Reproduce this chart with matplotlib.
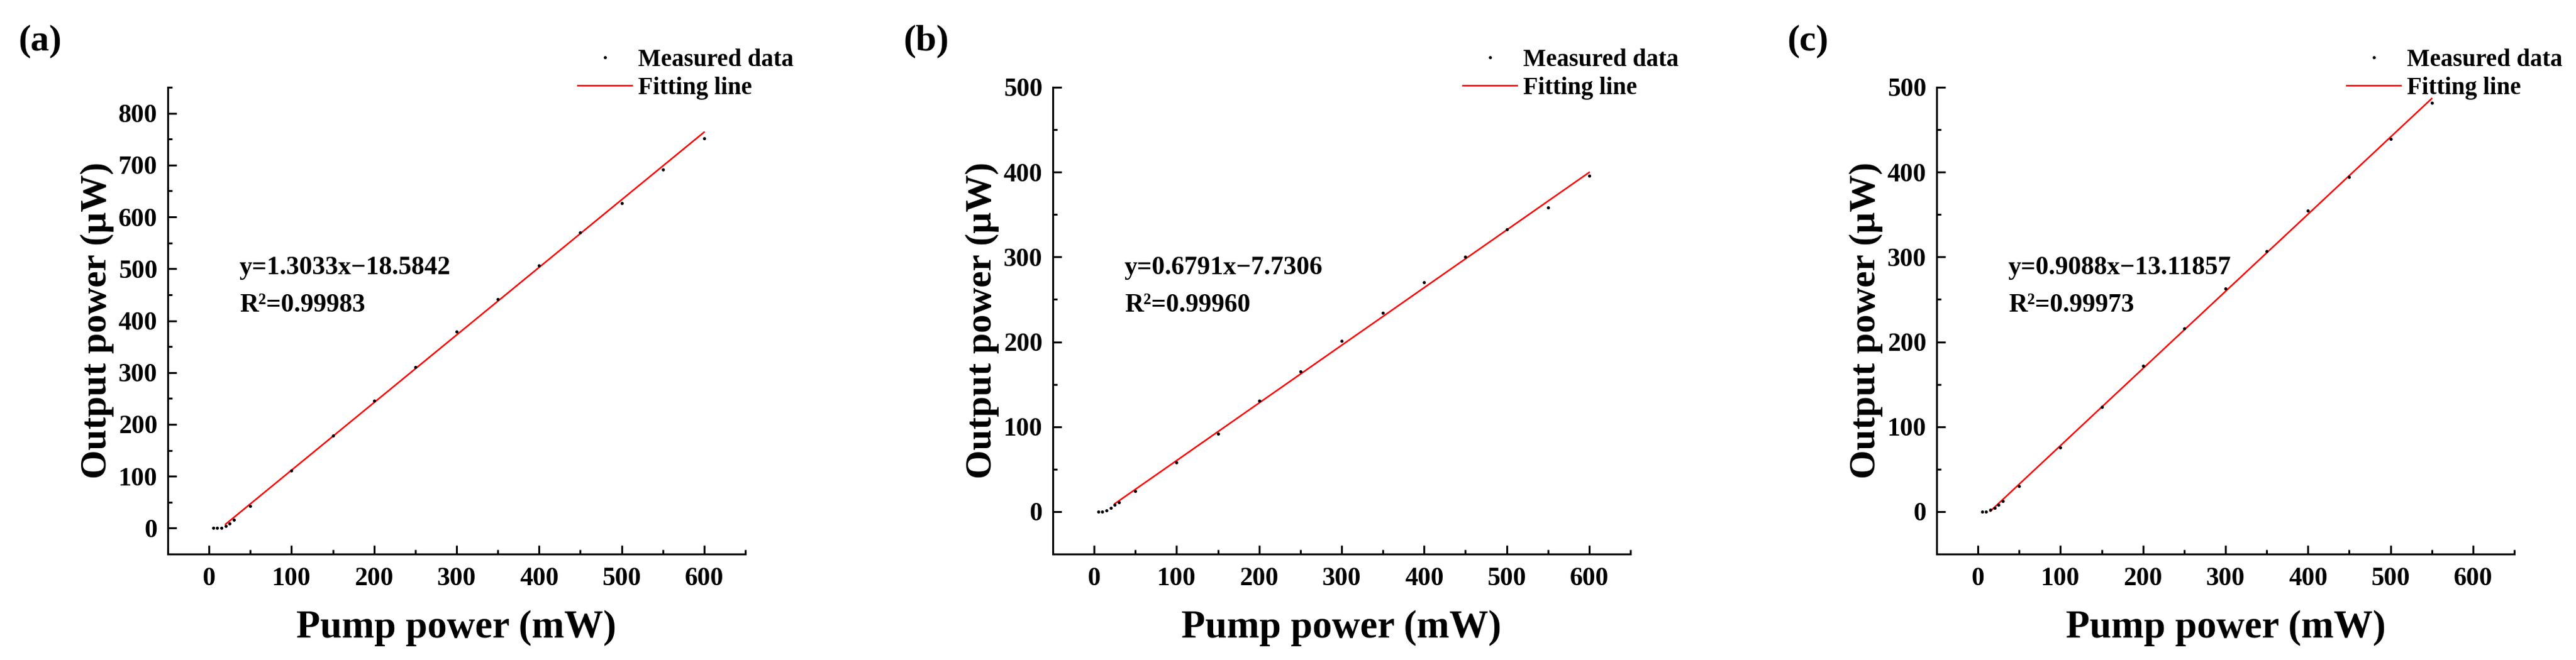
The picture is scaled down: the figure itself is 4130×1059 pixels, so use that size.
import matplotlib
matplotlib.use('Agg')
import matplotlib.pyplot as plt
from matplotlib.ticker import MultipleLocator

plt.rcParams['font.family'] = ['Liberation Serif', 'DejaVu Serif']
plt.rcParams['font.weight'] = 'bold'
plt.rcParams['axes.labelweight'] = 'bold'

# ---- data ----
pump_a = [5, 10, 15, 20, 25, 30, 50, 100, 150, 200, 250, 300, 350, 400, 450, 500, 550, 600]
out_a = [0, 0, 0.8, 4.4, 9.2, 16.4, 42.8, 111.4, 178, 245, 311, 379, 441, 506, 570, 627, 691, 752]
fit_x_a = [20, 600]
fit_y_a = [7.5, 763.4]

pump_b = [5, 10, 15, 20, 25, 30, 50, 100, 150, 200, 250, 300, 350, 400, 450, 500, 550, 600]
out_b = [0, 0, 1.2, 4.4, 8.3, 11, 23.8, 57.6, 91.6, 130.8, 165.5, 201, 234, 270, 300, 332.5, 358, 395.4]
fit_x_b = [25, 600]
fit_y_b = [9.25, 399.7]

pump_c = [5, 10, 15, 20, 25, 30, 50, 100, 150, 200, 250, 300, 350, 400, 450, 500, 550]
out_c = [0, 0, 2, 4.4, 8, 12.2, 30, 75.4, 123.4, 172, 215.6, 262.6, 307.2, 354.8, 394, 439, 481.7]
fit_x_c = [15, 550]
fit_y_c = [0.51, 486.7]

eq_a = ["y=1.3033x\u221218.5842", "R\u00b2=0.99983"]
eq_b = ["y=0.6791x\u22127.7306", "R\u00b2=0.99960"]
eq_c = ["y=0.9088x\u221213.11857", "R\u00b2=0.99973"]

panel_labels = ["(a)", "(b)", "(c)"]
ylims = [(-50, 850), (-50, 500), (-50, 500)]
ymaj = [100, 100, 100]

xlabel = "Pump power (mW)"
ylabel = "Output power (\u00b5W)"
legend_labels = ["Measured data", "Fitting line"]

W, H = 4130, 1059
fig = plt.figure(figsize=(W / 100, H / 100), dpi=100)

lefts = [269, 1688, 3105]
ax_w = 926
ax_top = 140
ax_bot = 889

datasets = [
    (pump_a, out_a, fit_x_a, fit_y_a, eq_a),
    (pump_b, out_b, fit_x_b, fit_y_b, eq_b),
    (pump_c, out_c, fit_x_c, fit_y_c, eq_c),
]

for i, (px, py, fx, fy, eq) in enumerate(datasets):
    ax = fig.add_axes([lefts[i] / W, 1 - ax_bot / H, ax_w / W, (ax_bot - ax_top) / H])
    dots, = ax.plot(px, py, 'o', color='black', markersize=3.6, markeredgewidth=0,
                    label=legend_labels[0], zorder=3)
    line, = ax.plot(fx, fy, '-', color='#ff0000', linewidth=1.8, label=legend_labels[1], zorder=2)
    ax.set_xlim(-50, 650)
    ax.set_ylim(*ylims[i])
    ax.xaxis.set_major_locator(MultipleLocator(100))
    ax.xaxis.set_minor_locator(MultipleLocator(50))
    ax.yaxis.set_major_locator(MultipleLocator(ymaj[i]))
    ax.yaxis.set_minor_locator(MultipleLocator(50))
    ax.set_xticks(range(0, 601, 100))
    for s in ['top', 'right']:
        ax.spines[s].set_visible(False)
    for s in ['left', 'bottom']:
        ax.spines[s].set_linewidth(2.2)
    ax.tick_params(which='major', direction='in', length=10, width=2.2, labelsize=30)
    ax.tick_params(which='minor', direction='in', length=5, width=2.2)
    ax.tick_params(axis='x', which='major', pad=15)
    ax.tick_params(axis='y', which='major', pad=12)
    for lab in ax.get_xticklabels() + ax.get_yticklabels():
        lab.set_fontweight('bold')
    ax.set_xlabel(xlabel, fontsize=45, fontweight='bold')
    ax.set_ylabel(ylabel, fontsize=43, fontweight='bold')
    ax.xaxis.set_label_coords(0.5, -0.12)
    ax.yaxis.set_label_coords(-0.093, 0.5)

    ax.text(0.124, 0.60, eq[0], transform=ax.transAxes, fontsize=30, fontweight='bold',
            va='baseline', ha='left')
    ax.text(0.124, 0.52, eq[1], transform=ax.transAxes, fontsize=30, fontweight='bold',
            va='baseline', ha='left')

    ax.text(-240 / ax_w, 1 + (140 - 80) / (ax_bot - ax_top), panel_labels[i],
            transform=ax.transAxes, fontsize=43, fontweight='bold', va='baseline', ha='left')

    ax.legend(handles=[dots, line], loc='upper left',
              bbox_to_anchor=((926 - 269) / ax_w, 1 + (140 - 78) / (ax_bot - ax_top)),
              frameon=False, fontsize=28, borderpad=0, borderaxespad=0,
              handlelength=2.24, handletextpad=0.26, labelspacing=0.2,
              prop={'weight': 'bold', 'size': 28})

fig.savefig('out.png', dpi=100)
